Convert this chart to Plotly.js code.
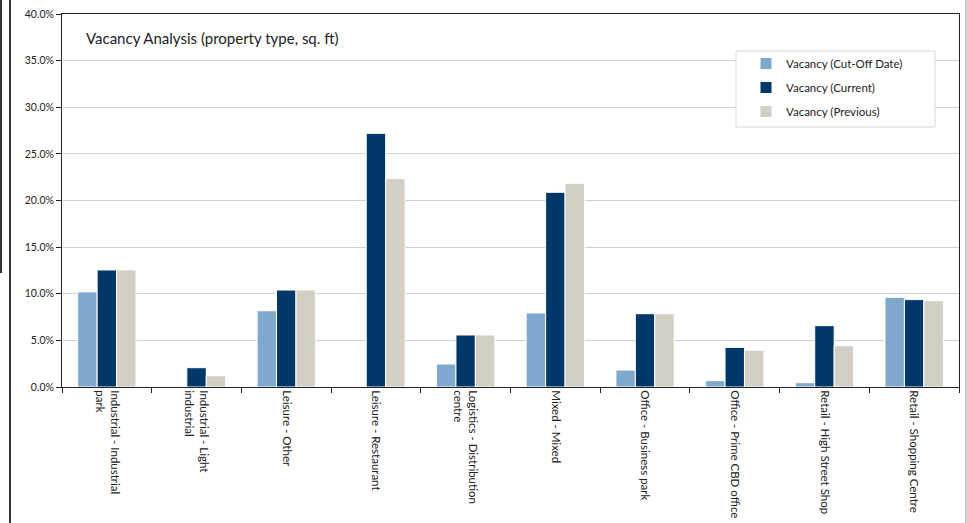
<!DOCTYPE html>
<html>
<head>
<meta charset="utf-8">
<script src="https://cdn.plot.ly/plotly-3.0.1.min.js"></script>
<style>html,body{margin:0;padding:0;background:#fff;}#chart{width:967px;height:523px;}</style>
</head>
<body>
<div id="chart"></div>
<script>
const categories = [
  "Industrial - Industrial<br>park",
  "Industrial - Light<br>industrial",
  "Leisure - Other",
  "Leisure - Restaurant",
  "Logistics - Distribution<br>centre",
  "Mixed - Mixed",
  "Office - Business park",
  "Office - Prime CBD office",
  "Retail - High Street Shop",
  "Retail - Shopping Centre"
];
const vacancyCutOff  = [0.102, 0.000, 0.0818, 0.000, 0.0247, 0.0794, 0.0182, 0.0068, 0.0046, 0.0962];
const vacancyCurrent = [0.1255, 0.0207, 0.104, 0.272, 0.0558, 0.2088, 0.0786, 0.0425, 0.0658, 0.0937];
const vacancyPrevious= [0.1255, 0.0121, 0.104, 0.2234, 0.0558, 0.2184, 0.0786, 0.0393, 0.0443, 0.0926];
const seriesNames = ["Vacancy (Cut-Off Date)", "Vacancy (Current)", "Vacancy (Previous)"];
const seriesColors = ["#7FA8CE", "#00386A", "#D3CFC5"];

const FONT = "Lato, 'Open Sans', sans-serif";
const seriesValues = [vacancyCutOff, vacancyCurrent, vacancyPrevious];
const traces = seriesValues.map((vals, i) => ({
  type: "bar",
  name: seriesNames[i],
  x: categories,
  y: vals,
  legendgroup: "g" + i,
  marker: {color: seriesColors[i], line: {color: "#ffffff", width: 1}},
  hoverinfo: "x+y+name"
}));

const W = 967, H = 523, L = 62, R = 8, T = 14, B = 136;
const pw = W - L - R, ph = H - T - B;
const px = v => (v - L) / pw;
const py = v => (H - B - v) / ph;

const layout = {
  width: W, height: H,
  margin: {l: L, r: R, t: T, b: B, pad: 0},
  paper_bgcolor: "#ffffff",
  plot_bgcolor: "#ffffff",
  font: {family: FONT, size: 11, color: "#222"},
  barmode: "group",
  bargap: 0.35,
  bargroupgap: 0,
  showlegend: true,
  title: {
    text: "Vacancy Analysis (property type, sq. ft)",
    font: {family: FONT, size: 15, color: "#222"},
    xref: "paper", yref: "paper",
    x: px(86), xanchor: "left",
    y: py(39), yanchor: "middle"
  },
  xaxis: {
    type: "category",
    tickson: "boundaries",
    ticks: "outside", ticklen: 5, tickcolor: "#222", tickwidth: 1,
    tickangle: 90,
    tickfont: {family: FONT, size: 11.5, color: "#222"},
    showline: true, linecolor: "#222", linewidth: 1, mirror: true,
    showgrid: false, zeroline: false, fixedrange: true
  },
  yaxis: {
    range: [0, 0.4],
    dtick: 0.05,
    tickformat: ".1%",
    ticks: "outside", ticklen: 5, tickcolor: "#222", tickwidth: 1,
    tickfont: {family: FONT, size: 10.5, color: "#222"},
    showline: true, linecolor: "#222", linewidth: 1, mirror: true,
    showgrid: true, gridcolor: "#D6D2C9", gridwidth: 1,
    zeroline: false, fixedrange: true
  },
  legend: {
    x: px(746), xanchor: "left",
    y: py(49), yanchor: "top",
    bgcolor: "rgba(0,0,0,0)",
    borderwidth: 0,
    traceorder: "grouped",
    tracegroupgap: 5,
    font: {family: FONT, size: 11.5, color: "#222"}
  },
  shapes: [
    {type: "rect", xref: "paper", yref: "paper", x0: px(736), x1: px(935), y0: py(127), y1: py(51),
     fillcolor: "#ffffff", line: {color: "#D9D9D9", width: 1}, layer: "above"},
    {type: "line", xref: "paper", yref: "paper", x0: px(10), x1: px(10), y0: py(523), y1: py(0),
     line: {color: "#333", width: 2}},
    {type: "line", xref: "paper", yref: "paper", x0: px(1), x1: px(1), y0: py(273), y1: py(0),
     line: {color: "#333", width: 2}},
    {type: "line", xref: "paper", yref: "paper", x0: px(966), x1: px(966), y0: py(523), y1: py(0),
     line: {color: "#999", width: 1}}
  ]
};

Plotly.newPlot("chart", traces, layout, {displayModeBar: false, staticPlot: true});
</script>
</body>
</html>
